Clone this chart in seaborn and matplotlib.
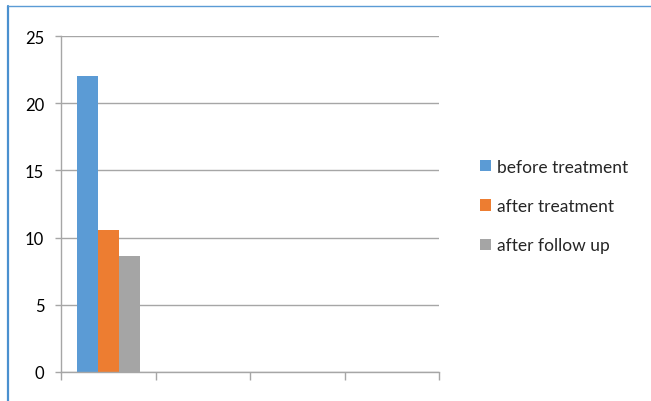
import pandas as pd
import numpy as np
import seaborn as sns
import matplotlib.pyplot as plt
from matplotlib.lines import Line2D

# data
categories = ["c1", "c2", "c3", "c4"]
series = ["before treatment", "after treatment", "after follow up"]
values = [22, 10.6, 8.6]
colors = ["#5b9bd5", "#ed7d31", "#a5a5a5"]
yticks = [0, 5, 10, 15, 20, 25]

data = pd.DataFrame({"cat": [categories[0]] * 3, "series": series, "value": values})

sns.set_style("white")
plt.rcParams["font.family"] = ["Lato", "DejaVu Sans"]

fig = plt.figure(figsize=(6.51, 4.02), dpi=100)
ax = fig.add_axes([61 / 651, 1 - 373 / 402, 378 / 651, 336 / 402])

sns.barplot(data=data, x="cat", y="value", hue="series", order=categories,
            hue_order=series, palette=colors, width=0.667, gap=0,
            saturation=1, linewidth=0, ax=ax)

ax.set_xlim(-0.5, 3.5)
ax.set_ylim(0, 25)
ax.set_yticks(yticks)
ax.set_xticks([-0.5, 0.5, 1.5, 2.5, 3.5])
ax.set_xticklabels([])
ax.set_xlabel("")
ax.set_ylabel("")
ax.grid(axis="y", color="#a6a6a6", linewidth=1)
ax.set_axisbelow(True)
for s in ["top", "right"]:
    ax.spines[s].set_visible(False)
for s in ["left", "bottom"]:
    ax.spines[s].set_color("#a6a6a6")
    ax.spines[s].set_linewidth(1)
ax.tick_params(axis="y", length=4, color="#a6a6a6", width=1, labelsize=12,
               pad=8, labelcolor="#000000", left=True)
ax.tick_params(axis="x", length=6, color="#a6a6a6", width=1, bottom=True)

ax.legend_.remove()
handles, labels = ax.get_legend_handles_labels()
fig.legend(handles, labels, loc="center left", bbox_to_anchor=(464 / 651, 1 - 207 / 402),
           frameon=False, fontsize=12.5, handlelength=0.65, handleheight=0.65,
           handletextpad=0.35, labelspacing=1.35)

# chart frame edge (blue)
fig.add_artist(Line2D([8 / 651, 8 / 651], [0, 1 - 7 / 402], color="#4a90cf", lw=1.6,
                      transform=fig.transFigure))
fig.add_artist(Line2D([8 / 651, 1], [1 - 7 / 402, 1 - 7 / 402], color="#5b9bd5", lw=1,
                      transform=fig.transFigure))

fig.savefig("out.png", dpi=100)
